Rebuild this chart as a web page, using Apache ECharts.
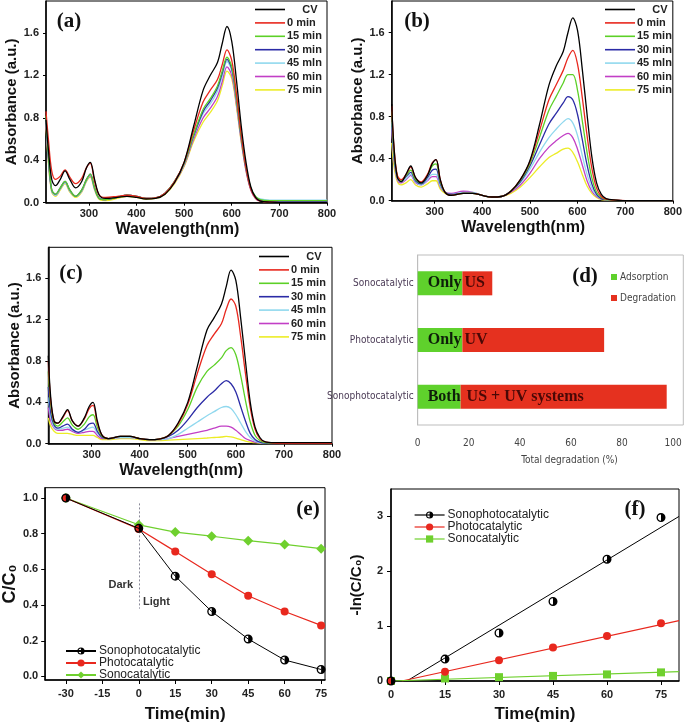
<!DOCTYPE html>
<html>
<head>
<meta charset="utf-8">
<script src="https://cdn.jsdelivr.net/npm/echarts@6/dist/echarts.min.js"></script>
<style>
  html, body { margin: 0; padding: 0; background: #fff; }
  #main { width: 685px; height: 724px; }
</style>
</head>
<body>
<div id="main"></div>
<script>
var myChart = echarts.init(document.getElementById('main'));

// wavelength grid shared by all spectra (nm)
var WL = [210,215,222,230,240,250,260,272,285,295,303,312,322,335,
          360,380,400,420,440,460,480,500,520,540,
          555,570,580,590,600,610,620,630,640,650,
          660,680,700,750,800];

var specNames = ['CV', '0 min', '15 min', '30 min', '45 mln', '60 min', '75 min'];
var specColors = ['#000000', '#e8281e', '#5cd027', '#2b2ba6', '#90d8ee', '#c23fc6', '#ecec26'];

// (a)
var aCV = [0.78,0.5,0.22,0.16,0.22,0.30,0.22,0.14,0.2,0.33,0.38,0.22,0.07,0.04, 0.05,0.06,0.05,0.035,0.04,0.08,0.19,0.38,0.72,1.06, 1.2,1.32,1.5,1.66,1.52,1.15,0.72,0.38,0.15,0.05, 0.015,0.005,0,0,0];
var a0  = [0.86,0.6,0.3,0.22,0.25,0.31,0.24,0.18,0.23,0.33,0.37,0.2,0.07,0.05, 0.06,0.07,0.06,0.04,0.045,0.09,0.2,0.38,0.68,0.95, 1.06,1.16,1.3,1.44,1.34,1.02,0.64,0.33,0.13,0.045, 0.015,0.005,0,0,0];
var a15 = [0.82,0.45,0.12,0.08,0.14,0.2,0.12,0.06,0.12,0.22,0.27,0.14,0.04,0.03, 0.05,0.07,0.06,0.04,0.045,0.09,0.2,0.37,0.64,0.88, 0.98,1.1,1.24,1.37,1.28,0.98,0.62,0.33,0.14,0.06, 0.03,0.02,0.02,0.02,0.02];
var a30 = [0.8,0.44,0.12,0.08,0.14,0.2,0.12,0.06,0.12,0.22,0.27,0.14,0.04,0.03, 0.05,0.07,0.06,0.04,0.045,0.09,0.2,0.37,0.63,0.86, 0.96,1.08,1.22,1.35,1.26,0.97,0.61,0.32,0.13,0.05, 0.02,0.015,0.015,0.015,0.015];
var a45 = [0.78,0.42,0.11,0.07,0.13,0.19,0.11,0.06,0.11,0.21,0.26,0.13,0.04,0.03, 0.05,0.07,0.06,0.04,0.045,0.09,0.2,0.36,0.62,0.84, 0.93,1.05,1.19,1.33,1.24,0.95,0.6,0.32,0.14,0.06, 0.035,0.025,0.025,0.025,0.025];
var a60 = [0.76,0.4,0.11,0.07,0.13,0.19,0.11,0.06,0.11,0.21,0.25,0.13,0.04,0.03, 0.05,0.07,0.06,0.04,0.045,0.09,0.19,0.35,0.6,0.8, 0.89,1.0,1.14,1.28,1.2,0.92,0.58,0.3,0.12,0.04, 0.015,0.01,0.01,0.01,0.01];
var a75 = [0.74,0.38,0.1,0.06,0.12,0.18,0.1,0.05,0.1,0.2,0.24,0.12,0.03,0.02, 0.04,0.06,0.05,0.035,0.04,0.08,0.18,0.34,0.58,0.76, 0.85,0.96,1.1,1.24,1.17,0.9,0.57,0.3,0.12,0.04, 0.015,0.01,0.01,0.01,0.01];

// (b)
var bCV = [0.92,0.5,0.22,0.18,0.25,0.33,0.22,0.17,0.24,0.35,0.39,0.2,0.08,0.05, 0.07,0.07,0.05,0.035,0.04,0.09,0.2,0.38,0.72,1.1, 1.28,1.42,1.6,1.74,1.62,1.25,0.82,0.42,0.17,0.06, 0.02,0.005,0,0,0];
var b0  = [0.9,0.5,0.24,0.2,0.25,0.32,0.22,0.18,0.25,0.36,0.39,0.2,0.08,0.05, 0.07,0.07,0.05,0.035,0.04,0.09,0.2,0.37,0.66,0.96, 1.1,1.24,1.36,1.43,1.3,0.98,0.62,0.31,0.12,0.04, 0.015,0.005,0,0,0];
var b15 = [0.85,0.45,0.23,0.19,0.24,0.29,0.2,0.17,0.24,0.33,0.35,0.18,0.08,0.05, 0.07,0.07,0.05,0.035,0.04,0.09,0.19,0.35,0.6,0.86, 0.99,1.12,1.2,1.2,1.05,0.76,0.46,0.22,0.08,0.03, 0.01,0.005,0,0,0];
var b30 = [0.8,0.42,0.22,0.19,0.23,0.27,0.19,0.16,0.22,0.29,0.3,0.16,0.08,0.06, 0.07,0.07,0.05,0.035,0.04,0.09,0.18,0.33,0.53,0.73, 0.83,0.93,0.99,0.96,0.82,0.58,0.34,0.16,0.06,0.02, 0.01,0.005,0,0,0];
var b45 = [0.75,0.4,0.21,0.18,0.21,0.25,0.18,0.15,0.2,0.25,0.25,0.14,0.08,0.06, 0.08,0.08,0.05,0.035,0.04,0.09,0.17,0.3,0.46,0.6, 0.68,0.75,0.78,0.74,0.62,0.43,0.25,0.12,0.05,0.02, 0.01,0.005,0,0,0];
var b60 = [0.7,0.38,0.2,0.17,0.2,0.24,0.17,0.15,0.19,0.23,0.23,0.13,0.08,0.07, 0.09,0.08,0.05,0.035,0.04,0.08,0.15,0.26,0.4,0.51, 0.57,0.62,0.64,0.6,0.49,0.34,0.19,0.09,0.04,0.015, 0.01,0.005,0,0,0];
var b75 = [0.55,0.32,0.18,0.15,0.17,0.2,0.15,0.13,0.16,0.19,0.19,0.11,0.07,0.06, 0.07,0.07,0.05,0.035,0.04,0.07,0.13,0.22,0.32,0.41, 0.45,0.49,0.5,0.46,0.37,0.25,0.14,0.07,0.03,0.01, 0.005,0,0,0,0];

// (c)
var cCV = [0.85,0.45,0.22,0.2,0.26,0.33,0.22,0.17,0.25,0.36,0.4,0.22,0.08,0.05, 0.07,0.07,0.05,0.04,0.045,0.08,0.2,0.4,0.75,1.1, 1.22,1.35,1.52,1.68,1.58,1.22,0.8,0.4,0.16,0.06, 0.02,0.01,0.01,0.01,0.01];
var c0  = [0.8,0.42,0.22,0.2,0.25,0.32,0.22,0.17,0.24,0.34,0.37,0.2,0.08,0.05, 0.07,0.07,0.05,0.04,0.045,0.08,0.19,0.38,0.68,0.95, 1.06,1.16,1.3,1.4,1.33,1.04,0.68,0.35,0.14,0.05, 0.02,0.005,0,0,0];
var c15 = [0.7,0.38,0.2,0.17,0.21,0.25,0.18,0.14,0.19,0.26,0.28,0.16,0.07,0.05, 0.07,0.07,0.05,0.04,0.045,0.08,0.17,0.33,0.55,0.7, 0.76,0.83,0.9,0.93,0.86,0.66,0.42,0.21,0.08,0.03, 0.01,0.005,0,0,0];
var c30 = [0.55,0.3,0.18,0.15,0.17,0.19,0.14,0.11,0.14,0.19,0.2,0.12,0.06,0.05, 0.07,0.07,0.05,0.04,0.045,0.07,0.13,0.23,0.35,0.45, 0.51,0.58,0.61,0.58,0.5,0.36,0.22,0.1,0.04,0.015, 0.005,0,0,0,0];
var c45 = [0.45,0.26,0.16,0.14,0.15,0.16,0.13,0.11,0.13,0.15,0.16,0.1,0.06,0.05, 0.06,0.06,0.05,0.04,0.04,0.05,0.09,0.15,0.21,0.27, 0.31,0.35,0.36,0.34,0.28,0.2,0.12,0.06,0.025,0.01, 0.005,0,0,0,0];
var c60 = [0.35,0.22,0.15,0.13,0.13,0.14,0.12,0.1,0.11,0.12,0.12,0.08,0.05,0.05, 0.06,0.06,0.05,0.04,0.04,0.05,0.07,0.09,0.11,0.13, 0.15,0.17,0.17,0.16,0.13,0.09,0.05,0.03,0.015,0.01, 0.005,0,0,0,0];
var c75 = [0.25,0.17,0.12,0.1,0.1,0.1,0.09,0.08,0.08,0.08,0.08,0.06,0.04,0.04, 0.05,0.05,0.04,0.03,0.03,0.035,0.04,0.045,0.05,0.055, 0.06,0.065,0.07,0.065,0.055,0.04,0.025,0.015,0.01,0.005, 0,0,0,0,0];

// (d)
var dCats = ['Sonophotocatalytic', 'Photocatalytic', 'Sonocatalytic'];
var dAdsorption = [16.8, 17.5, 17.5];
var dDegradation = [80.7, 55.5, 11.7];
var dLeftText = ['Both', 'Only', 'Only'];
var dRightText = [' US + UV systems', 'UV', 'US'];

// (e)
var timeE = [-30, 0, 15, 30, 45, 60, 75];
var eSonophoto = [1.0, 0.83, 0.562, 0.364, 0.21, 0.092, 0.039];
var ePhoto = [1.0, 0.827, 0.701, 0.573, 0.452, 0.364, 0.286];
var eSono = [1.0, 0.85, 0.809, 0.786, 0.761, 0.74, 0.716];
var darkLight = [[0, 0.97], [0, 0.38]];

// (f)
var timeF = [0, 15, 30, 45, 60, 75];
var fSonophoto = [0, 0.40, 0.875, 1.45, 2.22, 2.98];
var fPhoto = [0, 0.17, 0.38, 0.61, 0.82, 1.055];
var fSono = [0, 0.046, 0.07, 0.093, 0.12, 0.157];
var fitSonophoto = [[4.4, 0], [80, 3.0]];
var fitPhoto = [[3, 0], [80, 1.1]];
var fitSono = [[0, 0], [80, 0.17]];

function pairs(xs, ys) {
    return xs.map(function (x, i) { return [x, ys[i]]; });
}

var halfCircle = 'path://M0,-10 A10,10 0 1,1 0,10 A10,10 0 1,1 0,-10 Z M0,-7 A7,7 0 0,0 0,7 Z';
var thinBar = 'path://M0,0 L30,0 L30,1.6 L0,1.6 Z';
var sansB = 'Liberation Sans';
var narrow = "'Liberation Sans Narrow', 'DejaVu Sans Condensed', 'Liberation Sans'";

var grids = [
    {left: 46, top: 1, width: 281, height: 201.7},
    {left: 391.7, top: 1, width: 283.3, height: 199.7},
    {left: 48.3, top: 247.3, width: 283.7, height: 196.4},
    {left: 417.7, top: 255, width: 265.6, height: 170},
    {left: 44.3, top: 487.7, width: 280.7, height: 203.3},
    {left: 391, top: 489, width: 288, height: 200}
];
grids.forEach(function (g, i) {
    g.show = true;
    g.borderColor = i === 3 ? '#bdbdbd' : '#000';
    g.borderWidth = 1;
});

function blackAxisLine() {
    return {onZero: false, lineStyle: {color: '#000', width: 1.5}};
}

function specX(gi) {
    var vals = [300, 400, 500, 600, 700, 800];
    return {
        type: 'value', gridIndex: gi, min: 210, max: 800,
        axisLine: blackAxisLine(),
        axisTick: {customValues: vals, length: 3, lineStyle: {color: '#000'}},
        axisLabel: {customValues: vals, fontWeight: 'bold', fontSize: 11, color: '#222', margin: 6, fontFamily: sansB},
        splitLine: {show: false},
        name: 'Wavelength(nm)', nameLocation: 'middle', nameGap: 19,
        nameTextStyle: {fontWeight: 'bold', fontSize: 16, color: '#111', fontFamily: sansB, padding: [0, 18, 0, 0]}
    };
}
function specY(gi) {
    var vals = [0, 0.4, 0.8, 1.2, 1.6];
    return {
        type: 'value', gridIndex: gi, min: 0, max: 1.9,
        axisLine: blackAxisLine(),
        axisTick: {customValues: vals, length: 3, lineStyle: {color: '#000'}},
        axisLabel: {customValues: vals, fontWeight: 'bold', fontSize: 11, color: '#222', margin: 7, fontFamily: sansB,
            formatter: function (v) { return v.toFixed(1); }},
        splitLine: {show: false},
        name: 'Absorbance (a.u.)', nameLocation: 'middle', nameGap: 24,
        nameTextStyle: {fontWeight: 'bold', fontSize: 15, color: '#111', fontFamily: sansB}
    };
}

var xAxes = [specX(0), specX(1), specX(2)];
var yAxes = [specY(0), specY(1), specY(2)];

// (d) axes
var dVals = [0, 20, 40, 60, 80, 100];
xAxes.push({
    type: 'value', gridIndex: 3, min: 0, max: 104,
    axisLine: {lineStyle: {color: '#bdbdbd'}},
    axisTick: {customValues: dVals, length: 5, lineStyle: {color: '#999'}},
    axisLabel: {customValues: dVals, fontSize: 10, color: '#444', margin: 13, fontFamily: narrow},
    splitLine: {show: false},
    name: 'Total degradation (%)', nameLocation: 'middle', nameGap: 30,
    nameTextStyle: {fontSize: 10, color: '#444', padding: [0, 0, 0, 38], fontFamily: narrow}
});
yAxes.push({
    type: 'category', gridIndex: 3, data: dCats,
    axisLine: {lineStyle: {color: '#bdbdbd'}},
    axisTick: {show: false},
    axisLabel: {fontSize: 10, color: '#4a3a55', margin: 4, fontFamily: narrow}
});

// (e) axes
var eXVals = [-30, -15, 0, 15, 30, 45, 60, 75];
var eYVals = [0, 0.2, 0.4, 0.6, 0.8, 1.0];
xAxes.push({
    type: 'value', gridIndex: 4, min: -38.5, max: 76.6,
    axisLine: blackAxisLine(),
    axisTick: {customValues: eXVals, length: 4, lineStyle: {color: '#000'}},
    axisLabel: {customValues: eXVals, fontWeight: 'bold', fontSize: 11, color: '#222', margin: 8, fontFamily: sansB},
    splitLine: {show: false},
    name: 'Time(min)', nameLocation: 'middle', nameGap: 26,
    nameTextStyle: {fontWeight: 'bold', fontSize: 17, color: '#111', fontFamily: sansB}
});
yAxes.push({
    type: 'value', gridIndex: 4, min: -0.02, max: 1.058,
    axisLine: blackAxisLine(),
    axisTick: {customValues: eYVals, length: 4, lineStyle: {color: '#000'}},
    axisLabel: {customValues: eYVals, fontWeight: 'bold', fontSize: 11, color: '#222', margin: 7, fontFamily: sansB,
        formatter: function (v) { return v.toFixed(1); }},
    splitLine: {show: false},
    name: 'C/C\u2080', nameLocation: 'middle', nameGap: 26,
    nameTextStyle: {fontWeight: 'bold', fontSize: 18, color: '#111', fontFamily: sansB}
});

// (f) axes
var fXVals = [0, 15, 30, 45, 60, 75];
var fYVals = [0, 1, 2, 3];
xAxes.push({
    type: 'value', gridIndex: 5, min: 0, max: 80,
    axisLine: blackAxisLine(),
    axisTick: {customValues: fXVals, length: 4, lineStyle: {color: '#000'}},
    axisLabel: {customValues: fXVals, fontWeight: 'bold', fontSize: 11, color: '#222', margin: 8, fontFamily: sansB},
    splitLine: {show: false},
    name: 'Time(min)', nameLocation: 'middle', nameGap: 25,
    nameTextStyle: {fontWeight: 'bold', fontSize: 17, color: '#111', fontFamily: sansB}
});
yAxes.push({
    type: 'value', gridIndex: 5, min: 0, max: 3.5,
    axisLine: blackAxisLine(),
    axisTick: {customValues: fYVals, length: 4, lineStyle: {color: '#000'}},
    axisLabel: {customValues: fYVals, fontWeight: 'bold', fontSize: 11, color: '#222', margin: 8, fontFamily: sansB},
    splitLine: {show: false},
    name: '-ln(C/C\u2080)', nameLocation: 'middle', nameGap: 27,
    nameTextStyle: {fontWeight: 'bold', fontSize: 15, color: '#111', fontFamily: sansB}
});

var series = [];
var specData = [
    [aCV, a0, a15, a30, a45, a60, a75],
    [bCV, b0, b15, b30, b45, b60, b75],
    [cCV, c0, c15, c30, c45, c60, c75]
];
specData.forEach(function (set, gi) {
    set.forEach(function (vals, k) {
        series.push({
            name: specNames[k], type: 'line', xAxisIndex: gi, yAxisIndex: gi,
            data: pairs(WL, vals), smooth: 0.35, symbol: 'none',
            lineStyle: {width: 1.3, color: specColors[k]}, itemStyle: {color: specColors[k]},
            z: 10 - k
        });
    });
});

// (d) bars
series.push({
    name: 'Adsorption', type: 'bar', stack: 'd', xAxisIndex: 3, yAxisIndex: 3,
    data: dAdsorption, barWidth: 24, itemStyle: {color: '#5fd12c'},
    label: {show: true, position: 'insideLeft', distance: 10,
        formatter: function (p) { return dLeftText[p.dataIndex]; },
        fontFamily: 'Liberation Serif', fontWeight: 'bold', fontSize: 16, color: '#0d1f0a'}
});
series.push({
    name: 'Degradation', type: 'bar', stack: 'd', xAxisIndex: 3, yAxisIndex: 3,
    data: dDegradation, barWidth: 24, itemStyle: {color: '#e5311f'},
    label: {show: true, position: 'insideLeft', distance: 2,
        formatter: function (p) { return dRightText[p.dataIndex]; },
        fontFamily: 'Liberation Serif', fontWeight: 'bold', fontSize: 16, color: '#4a0806'}
});

// (e) lines
series.push({
    name: 'Sonophotocatalytic', type: 'line', xAxisIndex: 4, yAxisIndex: 4,
    data: pairs(timeE, eSonophoto), symbol: halfCircle, symbolSize: 9, symbolKeepAspect: true,
    lineStyle: {color: '#000', width: 1}, itemStyle: {color: '#000'}, z: 5,
    markLine: {
        silent: true, symbol: 'none',
        lineStyle: {color: '#8a8a99', type: [2, 2], width: 1},
        label: {show: false},
        data: [[{coord: darkLight[0]}, {coord: darkLight[1]}]]
    }
});
series.push({
    name: 'Photocatalytic', type: 'line', xAxisIndex: 4, yAxisIndex: 4,
    data: pairs(timeE, ePhoto), symbol: 'circle', symbolSize: 8,
    lineStyle: {color: '#e8281e', width: 1.2}, itemStyle: {color: '#e8281e'}, z: 4
});
series.push({
    name: 'Sonocatalytic', type: 'line', xAxisIndex: 4, yAxisIndex: 4,
    data: pairs(timeE, eSono), symbol: 'diamond', symbolSize: 10,
    lineStyle: {color: '#6fd02e', width: 1.2}, itemStyle: {color: '#6fd02e'}, z: 3
});

// (f) fitted lines + points
series.push({
    name: 'fit1', type: 'line', xAxisIndex: 5, yAxisIndex: 5, data: fitSonophoto,
    symbol: 'none', lineStyle: {color: '#000', width: 1}
});
series.push({
    name: 'fit2', type: 'line', xAxisIndex: 5, yAxisIndex: 5, data: fitPhoto,
    symbol: 'none', lineStyle: {color: '#e8281e', width: 1.2}
});
series.push({
    name: 'fit3', type: 'line', xAxisIndex: 5, yAxisIndex: 5, data: fitSono,
    symbol: 'none', lineStyle: {color: '#6fd02e', width: 1.2}
});
series.push({
    name: 'Sonophotocatalytic ', type: 'line', xAxisIndex: 5, yAxisIndex: 5,
    data: pairs(timeF, fSonophoto), symbol: halfCircle, symbolSize: 9, symbolKeepAspect: true, clip: false,
    lineStyle: {color: '#000', width: 1.2, opacity: 0}, itemStyle: {color: '#000'}, z: 5
});
series.push({
    name: 'Photocatalytic ', type: 'line', xAxisIndex: 5, yAxisIndex: 5,
    data: pairs(timeF, fPhoto), symbol: 'circle', symbolSize: 8, clip: false,
    lineStyle: {color: '#e8281e', width: 1.2, opacity: 0}, itemStyle: {color: '#e8281e'}, z: 4
});
series.push({
    name: 'Sonocatalytic ', type: 'line', xAxisIndex: 5, yAxisIndex: 5,
    data: pairs(timeF, fSono), symbol: 'rect', symbolSize: 8, clip: false,
    lineStyle: {color: '#6fd02e', width: 1.2, opacity: 0}, itemStyle: {color: '#6fd02e'}, z: 3
});

function specLegend(left, top) {
    return {
        data: specNames, orient: 'vertical', left: left, top: top,
        icon: thinBar, itemWidth: 30, itemHeight: 10, itemGap: 2.4, padding: 0,
        selectedMode: false,
        formatter: function (n) { return n === 'CV' ? '     CV' : n; },
        textStyle: {fontWeight: 'bold', fontSize: 11, color: '#222', fontFamily: sansB, padding: [0, 0, 0, -3]}
    };
}

var legends = [
    specLegend(255, 4),
    specLegend(605, 4),
    specLegend(259, 251),
    {
        data: ['Adsorption', 'Degradation'], orient: 'vertical', left: 611, top: 272,
        itemWidth: 6, itemHeight: 6, itemGap: 11, padding: 0, icon: 'rect', selectedMode: false,
        textStyle: {fontSize: 10, color: '#444', padding: [0, 0, 0, -2], fontFamily: narrow}
    },
    {
        data: ['Sonophotocatalytic', 'Photocatalytic', 'Sonocatalytic'], orient: 'vertical', left: 65, top: 645,
        itemWidth: 30, itemHeight: 9, itemGap: 0, padding: 0, selectedMode: false,
        textStyle: {fontSize: 12, lineHeight: 12, color: '#222', fontFamily: sansB, padding: [0, 0, 0, -2]}
    },
    {
        data: ['Sonophotocatalytic ', 'Photocatalytic ', 'Sonocatalytic '], orient: 'vertical', left: 414, top: 509,
        itemWidth: 30, itemHeight: 9, itemGap: 0, padding: 0, selectedMode: false,
        lineStyle: {opacity: 1, width: 1.2},
        textStyle: {fontSize: 12, lineHeight: 12, color: '#222', fontFamily: sansB, padding: [0, 0, 0, -2]}
    }
];

function panelLabel(text, x, y) {
    return {
        type: 'text', x: x, y: y, z: 100,
        style: {text: text, font: 'bold 21px "Liberation Serif"', fill: '#111',
            textAlign: 'center', textVerticalAlign: 'middle'}
    };
}

option = {
    backgroundColor: '#fff',
    animation: false,
    grid: grids,
    xAxis: xAxes,
    yAxis: yAxes,
    legend: legends,
    series: series,
    graphic: [
        panelLabel('(a)', 69, 22),
        panelLabel('(b)', 417, 22),
        panelLabel('(c)', 71, 274),
        panelLabel('(d)', 585, 277),
        panelLabel('(e)', 308, 510),
        panelLabel('(f)', 635, 510),
        {type: 'text', x: 133, y: 585, style: {text: 'Dark', font: 'bold 11px "Liberation Sans"', fill: '#333',
            textAlign: 'right', textVerticalAlign: 'middle'}},
        {type: 'text', x: 143, y: 602, style: {text: 'Light', font: 'bold 11px "Liberation Sans"', fill: '#333',
            textAlign: 'left', textVerticalAlign: 'middle'}}
    ]
};
myChart.setOption(option);
</script>
</body>
</html>
